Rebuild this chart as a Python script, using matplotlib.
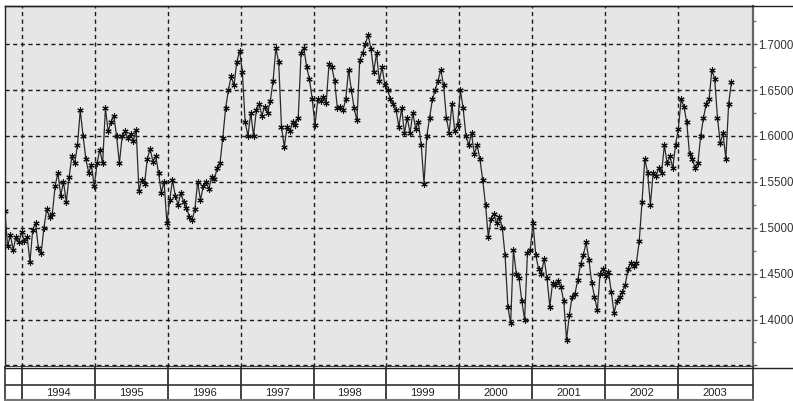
import matplotlib
matplotlib.use("Agg")
import matplotlib.pyplot as plt
import matplotlib.dates as mdates
from matplotlib.ticker import FixedLocator, FuncFormatter
from matplotlib.lines import Line2D
import pandas as pd

# Weekly-sampled exchange rate, one reading every 14 days from early October 1993
start_date = "1993-10-07"
step_days = 14
rates = [
    1.518, 1.480, 1.492, 1.476, 1.490, 1.484, 1.495, 1.485, 1.490, 1.463,
    1.498, 1.505, 1.478, 1.472, 1.500, 1.520, 1.512, 1.515, 1.545, 1.560,
    1.535, 1.550, 1.528, 1.555, 1.578, 1.570, 1.590, 1.628, 1.600, 1.575,
    1.560, 1.568, 1.545, 1.570, 1.585, 1.570, 1.630, 1.605, 1.615, 1.622,
    1.600, 1.570, 1.600, 1.605, 1.598, 1.602, 1.595, 1.606, 1.540, 1.552,
    1.548, 1.575, 1.586, 1.572, 1.578, 1.560, 1.538, 1.550, 1.505, 1.530,
    1.552, 1.535, 1.525, 1.538, 1.528, 1.522, 1.512, 1.508, 1.520, 1.550,
    1.530, 1.545, 1.550, 1.542, 1.555, 1.553, 1.565, 1.570, 1.598, 1.630,
    1.650, 1.665, 1.655, 1.680, 1.693, 1.670, 1.615, 1.600, 1.625, 1.600,
    1.628, 1.635, 1.622, 1.632, 1.625, 1.638, 1.660, 1.696, 1.680, 1.610,
    1.588, 1.610, 1.605, 1.615, 1.612, 1.620, 1.690, 1.696, 1.675, 1.662,
    1.640, 1.612, 1.640, 1.638, 1.642, 1.636, 1.678, 1.675, 1.660, 1.630,
    1.632, 1.628, 1.640, 1.672, 1.650, 1.630, 1.617, 1.683, 1.690, 1.700,
    1.710, 1.695, 1.670, 1.690, 1.660, 1.675, 1.655, 1.650, 1.640, 1.635,
    1.628, 1.610, 1.630, 1.603, 1.620, 1.603, 1.625, 1.608, 1.615, 1.590,
    1.548, 1.600, 1.620, 1.640, 1.650, 1.660, 1.672, 1.655, 1.620, 1.603,
    1.635, 1.605, 1.612, 1.650, 1.630, 1.600, 1.590, 1.603, 1.580, 1.590,
    1.575, 1.552, 1.525, 1.490, 1.510, 1.515, 1.505, 1.512, 1.500, 1.470,
    1.414, 1.396, 1.476, 1.450, 1.445, 1.420, 1.400, 1.472, 1.476, 1.505,
    1.470, 1.455, 1.450, 1.466, 1.445, 1.414, 1.440, 1.438, 1.442, 1.435,
    1.420, 1.378, 1.405, 1.425, 1.428, 1.443, 1.460, 1.470, 1.484, 1.465,
    1.440, 1.425, 1.410, 1.450, 1.455, 1.447, 1.452, 1.430, 1.407, 1.420,
    1.425, 1.430, 1.438, 1.455, 1.462, 1.458, 1.462, 1.485, 1.528, 1.575,
    1.560, 1.525, 1.560, 1.556, 1.565, 1.560, 1.590, 1.570, 1.578, 1.565,
    1.590, 1.608, 1.640, 1.632, 1.615, 1.580, 1.575, 1.565, 1.570, 1.600,
    1.620, 1.635, 1.640, 1.672, 1.662, 1.620, 1.592, 1.603, 1.575, 1.635,
    1.659,
]
years = [1994, 1995, 1996, 1997, 1998, 1999, 2000, 2001, 2002, 2003]
price_levels = [1.35, 1.40, 1.45, 1.50, 1.55, 1.60, 1.65, 1.70]

dates = pd.date_range(start_date, periods=len(rates), freq=f"{step_days}D")

W, H = 793, 401
fig = plt.figure(figsize=(W / 100, H / 100), dpi=100)
fig.patch.set_facecolor("white")


def box(x0, y0, x1, y1):
    return [x0 / W, 1 - y1 / H, (x1 - x0) / W, (y1 - y0) / H]


x_left = mdates.date2num(pd.Timestamp("1993-10-08"))
x_right = mdates.date2num(pd.Timestamp("2004-01-11"))
year_starts = [mdates.date2num(pd.Timestamp(f"{y}-01-01")) for y in years]

# ---- price panel ----
ax = fig.add_axes(box(5, 6, 753, 367))
ax.set_facecolor("#e6e6e6")
ax.plot(dates, rates, color="#2a2a2a", lw=0.9,
        marker=(6, 2, 0), ms=4.5, mew=0.8, mec="#111111", zorder=3)
ax.set_xlim(x_left, x_right)
ax.set_ylim(1.3483, 1.7415)

ax.xaxis.set_major_locator(FixedLocator(year_starts))
ax.tick_params(axis="x", length=0, labelbottom=False)

ax.yaxis.tick_right()
ax.yaxis.set_major_locator(FixedLocator(price_levels))
ax.yaxis.set_minor_locator(FixedLocator([v + 0.025 for v in price_levels]))
ax.yaxis.set_major_formatter(
    FuncFormatter(lambda v, p: "" if v < 1.375 else f"{v:.4f}"))
ax.tick_params(axis="y", which="major", direction="out", length=3, width=1,
               color="#555555", labelsize=8.3, labelcolor="#333333", pad=1)
ax.tick_params(axis="y", which="minor", direction="out", length=2, width=1,
               color="#777777")
for lab in ax.get_yticklabels():
    lab.set_fontfamily("Liberation Sans")

ax.grid(True, which="major", color="#1a1a1a", lw=1.0, linestyle=(0, (3, 2.5)))
ax.set_axisbelow(True)

for side in ("left", "top"):
    ax.spines[side].set_color("#222222")
    ax.spines[side].set_linewidth(1.0)
ax.spines["right"].set_color("#666666")
ax.spines["right"].set_linewidth(1.6)
ax.spines["bottom"].set_color("#222222")
ax.spines["bottom"].set_linewidth(1.2)

# ---- year strip ----
sx = fig.add_axes(box(5, 367, 753, 400))
sx.set_xlim(x_left, x_right)
sx.set_ylim(0, 1)
sx.set_xticks([])
sx.set_yticks([])
sx.set_facecolor("white")
for side in ("left", "right"):
    sx.spines[side].set_color("#333333")
    sx.spines[side].set_linewidth(1.2)
sx.spines["top"].set_visible(False)
sx.spines["bottom"].set_color("#777777")
sx.spines["bottom"].set_linewidth(1.5)
sx.axhline(0.455, color="#333333", lw=1.2)
for xs in year_starts:
    sx.axvline(xs, color="#333333", lw=1.3)
for y in years:
    mid = mdates.date2num(pd.Timestamp(f"{y}-07-02"))
    sx.text(mid, 0.20, str(y), ha="center", va="center", fontsize=8,
            color="#222222", family="Liberation Sans")

# frame lines running across the right-hand label column
fig.add_artist(Line2D([5 / W, 1.0], [1 - 6 / H, 1 - 6 / H],
                      color="#222222", lw=1.0))
fig.add_artist(Line2D([5 / W, 1.0], [1 - 368 / H, 1 - 368 / H],
                      color="#222222", lw=1.0))

fig.savefig("out.png", dpi=100)
